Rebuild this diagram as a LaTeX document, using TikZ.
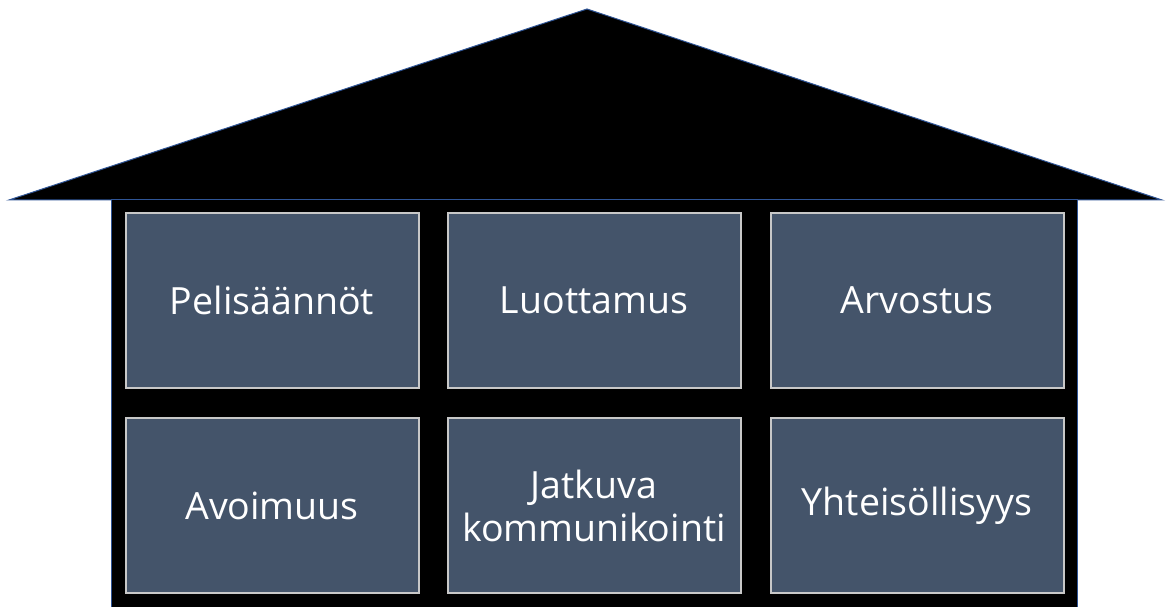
\documentclass[tikz,border=0pt]{standalone}
\usepackage{fontspec}
\setmainfont{Open Sans}
\definecolor{slate}{HTML}{44546A}
\definecolor{edgeblue}{HTML}{2F5597}
\definecolor{boxedge}{HTML}{C8C8C8}
\tikzset{
  cell/.style={draw=boxedge, line width=2pt, fill=slate, text=white,
    minimum width=293pt, minimum height=175pt, inner sep=0pt, align=center,
    font=\fontsize{37.5}{43}\selectfont},
}
\begin{document}
\begin{tikzpicture}[x=1pt,y=1pt]
\useasboundingbox (0,0) rectangle (1171,607);
% roof
\filldraw[fill=black, draw=edgeblue, line width=1pt] (9,407) -- (587,598) -- (1162,407) -- cycle;
% body
\fill[black] (111.5,0) rectangle (1077,407);
\draw[edgeblue, line width=1pt] (111.5,0) -- (111.5,407) -- (1077,407) -- (1077,0);
% cells
\node[cell] (c1) at (272,306.5) {Pelisäännöt};
\node[cell] (c2) at (594,306.5) {Luottamus};
\node[cell] (c3) at (917,306.5) {Arvostus};
\node[cell] (c4) at (272,101) {Avoimuus};
\node[cell] (c5) at (594,101) {Jatkuva\\kommunikointi};
\node[cell] (c6) at (917,101) {Yhteisöllisyys};
\end{tikzpicture}
\end{document}
